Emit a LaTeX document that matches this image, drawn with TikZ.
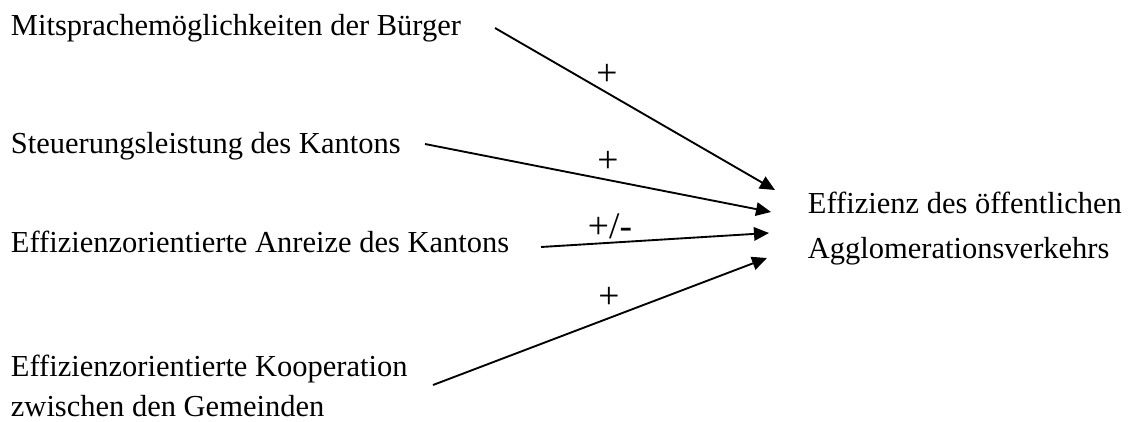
\documentclass[tikz,border=0pt]{standalone}
\usepackage{fontspec}
\setmainfont{Liberation Serif}
\usetikzlibrary{arrows.meta}

\begin{document}
\begin{tikzpicture}[x=0.4pt, y=-0.4pt, line width=0.75pt,
    faktor/.style={anchor=base west, inner sep=0pt, align=left,
      font=\fontsize{12.2}{16}\selectfont},
    vorz/.style={inner sep=0pt, font=\fontsize{15}{16}\selectfont},
    pfeil/.style={-{Triangle[length=6pt, width=5.4pt]}}]

  \useasboundingbox (0, 0) rectangle (1135, 421);

  % Einflussfaktoren (base = letzte Zeile)
  \node[faktor] (buerger) at (10, 35) {Mitsprachemöglichkeiten der Bürger};
  \node[faktor] (steuerung) at (10, 153) {Steuerungsleistung des Kantons};
  \node[faktor] (anreize) at (10, 252) {Effizienzorientierte Anreize des Kantons};
  \node[faktor] (koop) at (10, 416) {Effizienzorientierte Kooperation\\zwischen den Gemeinden};

  % abhaengige Variable
  \node[faktor, font=\fontsize{12.2}{18}\selectfont] (effizienz) at (807, 258)
    {Effizienz des öffentlichen\\Agglomerationsverkehrs};

  % Anfangs- und Endpunkte der Pfeile
  \coordinate (s1) at (495, 28);
  \coordinate (s2) at (425, 144);
  \coordinate (s3) at (541, 247);
  \coordinate (s4) at (433, 385);
  \coordinate (z1) at (775, 190);
  \coordinate (z2) at (771, 212);
  \coordinate (z3) at (769, 233);
  \coordinate (z4) at (767, 258);

  \draw[pfeil] (s1) -- (z1);
  \draw[pfeil] (s2) -- (z2);
  \draw[pfeil] (s3) -- (z3);
  \draw[pfeil] (s4) -- (z4);

  \node[vorz] (v1) at (607, 75) {+};
  \node[vorz] (v2) at (608, 162) {+};
  \node[vorz] (v3) at (610, 226) {+/-};
  \node[vorz] (v4) at (609, 298) {+};

\end{tikzpicture}
\end{document}
